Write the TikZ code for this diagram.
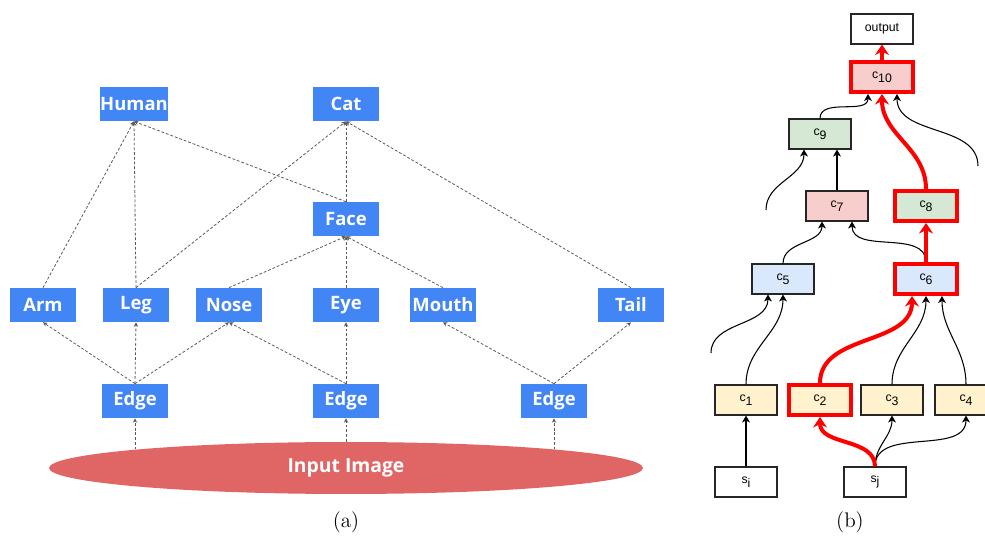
\documentclass[tikz,border=0pt]{standalone}
\usepackage{fontspec}
\newfontfamily\gsans{Open Sans}
\newfontfamily\drawio{Liberation Sans}
\usetikzlibrary{arrows.meta,calc,shapes.geometric}
\definecolor{gblue}{HTML}{4285F4}
\definecolor{gred}{HTML}{E06666}
\definecolor{cpink}{HTML}{F8CECC}
\definecolor{cgreen}{HTML}{D5E8D4}
\definecolor{cblue}{HTML}{DAE8FC}
\definecolor{cyellow}{HTML}{FFF2CC}
\tikzset{
    feat/.style={fill=gblue,text=white,font=\gsans\bfseries\fontsize{10.5}{12}\selectfont,
        minimum width=1.34cm,minimum height=0.68cm,inner sep=0pt},
    dep/.style={dash pattern=on 1.6pt off 1.1pt,black!65,line width=0.45pt,-{Stealth[length=2.5pt,width=2.5pt]}},
    cell/.style={draw=black!85,line width=0.6pt,font=\drawio\fontsize{7}{8}\selectfont,
        minimum width=1.24cm,minimum height=0.6cm,inner sep=0pt},
    hot/.style={draw=red,line width=2.3pt},
    link/.style={line width=0.6pt,-{Stealth[length=4pt,width=4.5pt,inset=1.2pt]}},
    hotlink/.style={red,line width=2.3pt,-{Stealth[length=6pt,width=8pt,inset=2pt]}},
}
\begin{document}
\begin{tikzpicture}[x=0.02cm,y=-0.02cm]
    \useasboundingbox (0,0) rectangle (985,540);
    % (a) feature hierarchy
    \node[feat] (human) at (134,104) {Human};
    \node[feat] (cat) at (346,104) {Cat};
    \node[feat] (face) at (346,219) {Face};
    \foreach \n/\x/\t in {arm/43/Arm,leg/136/Leg,nose/229/Nose,eye/346/Eye,mouth/443/Mouth,tail/631/Tail}
        \node[feat] (\n) at (\x,305) {\t};
    \foreach \n/\x in {e1/135,e2/346,e3/554}
        \node[feat] (\n) at (\x,401) {Edge};
    \node[ellipse,fill=gred,text=white,font=\gsans\bfseries\fontsize{11}{13}\selectfont,
        minimum width=11.88cm,minimum height=1.04cm,inner sep=0pt] (img) at (346,468) {Input Image};
    \foreach \a/\b in {arm/human,leg/human,face/human,leg/cat,face/cat,tail/cat,
        nose/face,eye/face,mouth/face,e1/arm,e1/leg,e1/nose,e2/nose,e2/eye,e3/mouth,e3/tail}
        \draw[dep] (\a.north) -- (\b.south);
    \foreach \e/\k in {e1/175,e2/90,e3/5}
        \draw[dep] (\e |- img.\k) -- (\e.south);
    \node[font=\fontsize{12}{14}\selectfont] (capa) at (346,522) {(a)};
    % (b) cell graph
    \node[cell] (out) at (882,29) {output};
    \node[cell,hot,fill=cpink] (c10) at (882,77) {c\raisebox{-2pt}{10}};
    \node[cell,fill=cgreen] (c9) at (820,134) {c\raisebox{-2pt}{9}};
    \node[cell,fill=cpink] (c7) at (837,206) {c\raisebox{-2pt}{7}};
    \node[cell,hot,fill=cgreen] (c8) at (926,206) {c\raisebox{-2pt}{8}};
    \node[cell,fill=cblue] (c5) at (783,279) {c\raisebox{-2pt}{5}};
    \node[cell,hot,fill=cblue] (c6) at (926,279) {c\raisebox{-2pt}{6}};
    \foreach \i/\x/\s in {1/746/{},2/820/hot,3/892/{},4/966/{}}
        \node[cell,fill=cyellow,\s] (c\i) at (\x,400) {c\raisebox{-2pt}{\i}};
    \node[cell] (si) at (746,482) {s\raisebox{-2pt}{i}};
    \node[cell] (sj) at (875,482) {s\raisebox{-2pt}{j}};
    \coordinate (l5) at (711,353);
    \coordinate (l9) at (766,210);
    \coordinate (r10) at (978,166);
    \draw[link] (si) -- (c1);
    \draw[link] (sj.north) to[out=90,in=-90] (c3.south);
    \draw[link] (sj.north) to[out=90,in=-90] (c4.south);
    \draw[link] (l5) to[out=90,in=-90] ($(c5.south)+(-15,0)$);
    \draw[link] (c1.north) to[out=90,in=-90] (c5.south);
    \draw[link] (c3.north) to[out=90,in=-90] (c6.south);
    \draw[link] (c4.north) to[out=90,in=-90] ($(c6.south)+(16,0)$);
    \draw[link] (c5.north) to[out=90,in=-90] ($(c7.south)+(-15,0)$);
    \draw[link] (c6.north) to[out=90,in=-90] ($(c7.south)+(15,0)$);
    \draw[link] (c7.north) -- (c7 |- c9.south);
    \draw[link] (l9) to[out=90,in=-90] ($(c9.south)+(-16,0)$);
    \draw[link] (c9.north) to[out=90,in=-90] ($(c10.south)+(-14,0)$);
    \draw[link] (r10) to[out=90,in=-90] ($(c10.south)+(15,0)$);
    % highlighted path
    \draw[hotlink] (sj.north) to[out=90,in=-90] (c2.south);
    \draw[hotlink] (c2.north) to[out=90,in=-90] ($(c6.south)+(-14,0)$);
    \draw[hotlink] (c6.north) -- (c8.south);
    \draw[hotlink] (c8.north) to[out=90,in=-90] (c10.south);
    \draw[hotlink] (c10.north) -- (out.south);
    \node[font=\fontsize{12}{14}\selectfont] (capb) at (850,522) {(b)};
\end{tikzpicture}
\end{document}
